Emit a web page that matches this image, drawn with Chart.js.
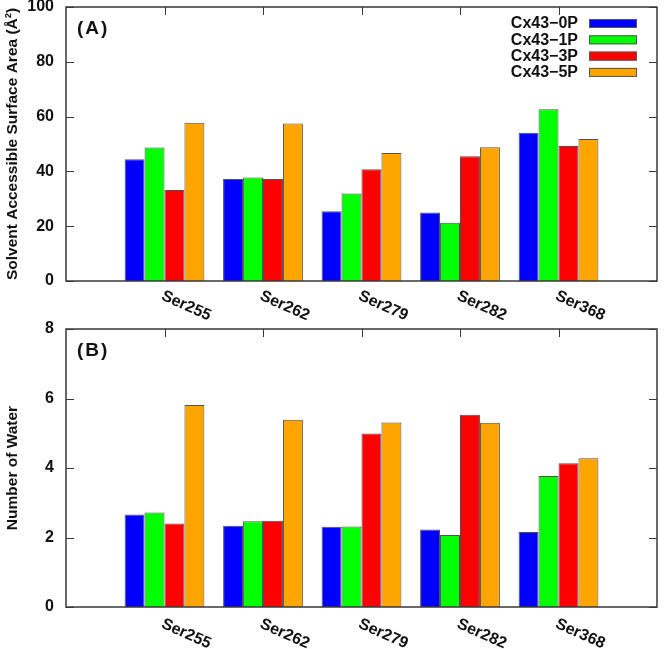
<!DOCTYPE html>
<html>
<head>
<meta charset="utf-8">
<script src="https://cdn.jsdelivr.net/npm/chart.js@4.4.1/dist/chart.umd.min.js"></script>
<style>
  html, body { margin: 0; padding: 0; background: #fff; }
  .panel { position: absolute; left: 0; width: 666px; }
  #panelA { top: 0; height: 320px; }
  #panelB { top: 320px; height: 329px; }
</style>
</head>
<body>
<div class="panel" id="panelA"><canvas id="chartA"></canvas></div>
<div class="panel" id="panelB"><canvas id="chartB"></canvas></div>
<script>
// residues on the x axis
const residues = ['Ser255', 'Ser262', 'Ser279', 'Ser282', 'Ser368'];
const seriesNames = ['Cx43\u22120P', 'Cx43\u22121P', 'Cx43\u22123P', 'Cx43\u22125P'];
const seriesColors = ['#0000ff', '#00ff00', '#ff0000', '#ffa500'];

// (A) solvent accessible surface area, Å²
const sasa0P = [44.4, 37.2, 25.5, 25.0, 54.1];
const sasa1P = [48.7, 37.8, 31.9, 21.3, 62.7];
const sasa3P = [33.2, 37.2, 40.8, 45.5, 49.3];
const sasa5P = [57.8, 57.5, 46.7, 48.8, 51.8];
const sasaTicks = [0, 20, 40, 60, 80, 100];

// (B) number of water molecules
const water0P = [2.66, 2.34, 2.31, 2.23, 2.16];
const water1P = [2.72, 2.47, 2.32, 2.07, 3.77];
const water3P = [2.40, 2.48, 4.99, 5.53, 4.14];
const water5P = [5.81, 5.39, 5.31, 5.30, 4.28];
const waterTicks = [0, 2, 4, 6, 8];

const FONT = '"Liberation Sans", Arial, sans-serif';
const FRAME = '#383838';

// empty slot at both ends, like the gnuplot xrange [0:6]
const slotLabels = ['', ...residues, ''];
const pad = arr => [null, ...arr, null];

// frame, mirrored ticks, rotated residue labels, panel tag and legend
const decorPlugin = {
  id: 'decor',
  afterDatasetsDraw(chart, args, opts) {
    const { ctx, chartArea: a, scales } = chart;
    const x = scales.x, y = scales.y;
    ctx.save();
    ctx.strokeStyle = FRAME;
    ctx.lineWidth = 1.5;
    ctx.strokeRect(a.left, a.top, a.right - a.left, a.bottom - a.top);

    ctx.lineWidth = 1;
    ctx.beginPath();
    opts.yTicks.forEach(v => {
      const py = Math.round(y.getPixelForValue(v)) + 0.5;
      ctx.moveTo(a.left, py); ctx.lineTo(a.left + 8, py);
      ctx.moveTo(a.right, py); ctx.lineTo(a.right - 8, py);
    });
    residues.forEach((r, i) => {
      const px = Math.round(x.getPixelForValue(i + 1)) + 0.5;
      ctx.moveTo(px, a.top); ctx.lineTo(px, a.top + 8);
    });
    ctx.stroke();

    ctx.fillStyle = '#111';
    ctx.font = 'bold 16px ' + FONT;
    ctx.textAlign = 'left';
    ctx.textBaseline = 'top';
    residues.forEach((r, i) => {
      const px = x.getPixelForValue(i + 1);
      ctx.save();
      ctx.translate(px + 1, a.bottom + opts.labelGap);
      ctx.rotate(24 * Math.PI / 180);
      ctx.fillText(r, 0, 0);
      ctx.restore();
    });

    ctx.save();
    ctx.font = 'bold 19px ' + FONT;
    ctx.letterSpacing = '2px';
    ctx.textBaseline = 'middle';
    ctx.fillText(opts.tag, a.left + 11, a.top + 22);
    ctx.restore();

    if (opts.legend) {
      ctx.font = 'bold 16px ' + FONT;
      ctx.textAlign = 'right';
      ctx.textBaseline = 'middle';
      chart.data.datasets.forEach((ds, i) => {
        const cy = a.top + 16 + i * 16.3;
        ctx.fillStyle = '#111';
        ctx.fillText(ds.label, a.right - 79, cy + 1);
        ctx.fillStyle = ds.backgroundColor;
        ctx.fillRect(a.right - 68, cy - 4, 48, 9);
        ctx.strokeStyle = '#555';
        ctx.strokeRect(a.right - 67.5, cy - 3.5, 47, 8);
      });
    }
    ctx.restore();
  }
};

function makePanel(canvasId, series, yTitle, yMax, yStep, ticks, opts) {
  const datasets = series.map((vals, i) => ({
    label: seriesNames[i],
    data: pad(vals),
    backgroundColor: seriesColors[i],
    borderColor: '#505050',
    borderWidth: 1,
    categoryPercentage: 0.81,
    barPercentage: 1.0
  }));
  return new Chart(document.getElementById(canvasId), {
    type: 'bar',
    data: { labels: slotLabels, datasets },
    options: {
      responsive: true,
      maintainAspectRatio: false,
      animation: false,
      layout: { padding: { top: opts.top, right: 9, left: 0, bottom: 0 } },
      plugins: {
        legend: { display: false },
        tooltip: { enabled: false },
        decor: { yTicks: ticks, tag: opts.tag, legend: opts.legend, labelGap: opts.labelGap }
      },
      scales: {
        x: {
          offset: false,
          grid: { display: false },
          border: { display: false },
          ticks: { display: false },
          afterFit: s => { s.height = opts.xHeight; }
        },
        y: {
          min: 0,
          max: yMax,
          grid: { display: false, drawTicks: false },
          border: { display: false },
          ticks: {
            stepSize: yStep,
            padding: 12,
            color: '#111',
            font: { family: FONT, size: 16, weight: 'bold' }
          },
          title: {
            display: true,
            text: yTitle,
            color: '#111',
            font: { family: FONT, size: opts.titleSize, weight: 'bold', lineHeight: 1.2 },
            padding: { top: 3, bottom: 0 }
          },
          afterFit: s => {
            s.width = 66;
            s.paddingTop = 0;
            s.paddingBottom = 0;
          }
        }
      }
    },
    plugins: [decorPlugin]
  });
}

makePanel('chartA', [sasa0P, sasa1P, sasa3P, sasa5P],
  'Solvent Accessible Surface Area (\u00c5\u00b2)', 100, 20, sasaTicks,
  { top: 7, xHeight: 39, tag: '(A)', legend: true, labelGap: 7, titleSize: 15.5 });

makePanel('chartB', [water0P, water1P, water3P, water5P],
  'Number of Water', 8, 2, waterTicks,
  { top: 9, xHeight: 42, tag: '(B)', legend: false, labelGap: 9, titleSize: 15.5 });
</script>
</body>
</html>
